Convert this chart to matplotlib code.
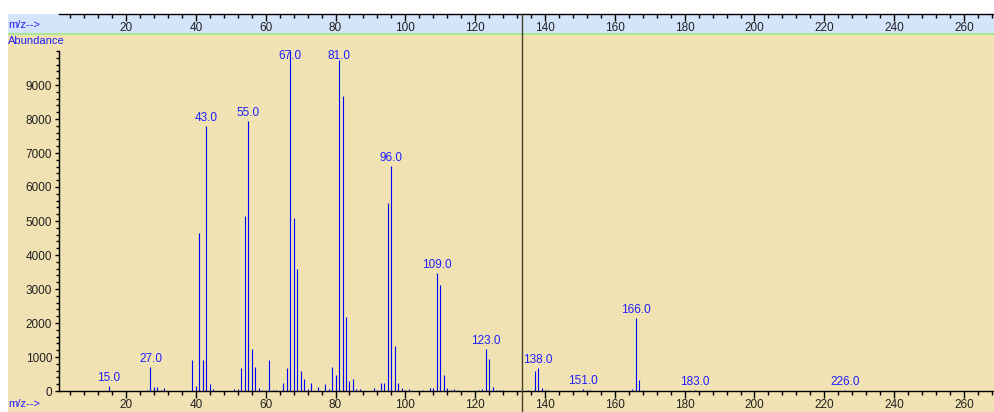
"""Mass spectrum (ChemStation style): abundance vs m/z with labelled peaks."""

import matplotlib

matplotlib.use("Agg")
import matplotlib.pyplot as plt
import matplotlib.transforms as mtransforms
from matplotlib.lines import Line2D
from matplotlib.patches import Rectangle
from matplotlib.ticker import FixedLocator, MultipleLocator

# --- data ---
mz = [15, 26, 27, 28, 29, 30, 31, 39, 40, 41, 42, 43, 44, 45, 51, 52, 53, 54,
      55, 56, 57, 58, 59, 60, 61, 62, 63, 65, 66, 67, 68, 69, 70, 71, 72, 73,
      75, 77, 78, 79, 80, 81, 82, 83, 84, 85, 86, 87, 91, 92, 93, 94, 95, 96,
      97, 98, 99, 100, 101, 105, 107, 108, 109, 110, 111, 112, 113, 114, 115,
      121, 122, 123, 124, 125, 126, 127, 128, 135, 137, 138, 139, 140, 141,
      151, 152, 153, 165, 166, 167, 168, 183, 226]
abundance = [155, 30, 700, 130, 130, 40, 90, 910, 150, 4650, 900, 7800, 220,
             60, 60, 60, 680, 5150, 7950, 1230, 700, 100, 30, 30, 910, 30, 30,
             230, 690, 10000, 5100, 3580, 590, 340, 60, 225, 130, 200, 60, 720,
             470, 9750, 8680, 2190, 300, 340, 60, 60, 90, 40, 250, 250, 5530,
             6620, 1320, 225, 100, 40, 60, 40, 100, 100, 3460, 3110, 470, 100,
             40, 60, 40, 40, 60, 1250, 940, 130, 40, 40, 40, 30, 600, 670, 100,
             30, 30, 60, 30, 30, 70, 2140, 320, 30, 30, 15]
labelled_mz = [15, 27, 43, 55, 67, 81, 96, 109, 123, 138, 151, 166, 183, 226]
x_major = list(range(20, 261, 20))
y_major = list(range(0, 10000, 1000))
y_minor = list(range(0, 10001, 200))
cursor_mz = 133.3

W, H = 994, 412
TAN = "#F0E2B2"
BAND = "#D4E4FA"
GREEN = "#A8E890"
BLUE = "#0000FF"
TEXT_BLUE = "#1E1EFF"
TICK_TXT = "#202020"
FONT = ["Liberation Sans Narrow", "Liberation Sans", "DejaVu Sans"]

plt.rcParams["font.family"] = FONT


def fx(px):
    return px / W


def fy(py):
    return 1 - py / H


fig = plt.figure(figsize=(W / 100, H / 100), dpi=100)
fig.patch.set_facecolor("white")

# backgrounds: tan plot field, light-blue top ruler, green separator
fig.add_artist(Rectangle((fx(8), 0), 1 - fx(8), fy(34), transform=fig.transFigure,
                         facecolor=TAN, edgecolor="none", zorder=0))
fig.add_artist(Rectangle((fx(8), fy(33)), 1 - fx(8), fy(14) - fy(33),
                         transform=fig.transFigure, facecolor=BAND,
                         edgecolor="none", zorder=0))
fig.add_artist(Rectangle((fx(8), fy(35)), 1 - fx(8), fy(33) - fy(35),
                         transform=fig.transFigure, facecolor=GREEN,
                         edgecolor="none", zorder=0))

xlim = (0.8, 268.6)

ax = fig.add_axes([fx(59), fy(391), 1 - fx(59), fy(34) - fy(391)])
ax.set_facecolor("none")
ax.set_xlim(*xlim)
ax.set_ylim(0, 10500)
for side in ("top", "right"):
    ax.spines[side].set_visible(False)
ax.spines["left"].set_bounds(0, 10000)
ax.spines["left"].set_linewidth(1.0)
ax.spines["bottom"].set_linewidth(1.0)

ax.vlines(mz, 0, abundance, colors=BLUE, linewidth=0.8, zorder=2)

px_per_unit = (391 - 34) / 10500.0
for m in labelled_mz:
    h = abundance[mz.index(m)]
    y = min(h + 8 / px_per_unit, 9850)
    ax.text(m, y, f"{m:.1f}", ha="center", va="center", color=TEXT_BLUE,
            fontsize=8.5, zorder=3)

ax.set_xticks(x_major)
ax.xaxis.set_minor_locator(MultipleLocator(4))
ax.set_yticks(y_major)
ax.yaxis.set_minor_locator(FixedLocator(y_minor))
ax.tick_params(axis="x", which="major", length=5, width=1, pad=1,
               labelsize=8.5, labelcolor=TICK_TXT)
ax.tick_params(axis="x", which="minor", length=3, width=1)
ax.tick_params(axis="y", which="major", length=3, width=1, pad=2,
               labelsize=8.5, labelcolor=TICK_TXT)
ax.tick_params(axis="y", which="minor", length=2, width=1)

# top ruler
ax_top = fig.add_axes([fx(59), fy(14), 1 - fx(59), 0.01])
ax_top.set_facecolor("none")
ax_top.set_xlim(*xlim)
ax_top.set_yticks([])
for side in ("top", "right", "left"):
    ax_top.spines[side].set_visible(False)
ax_top.spines["bottom"].set_linewidth(1.0)
ax_top.set_xticks(x_major)
ax_top.xaxis.set_minor_locator(MultipleLocator(4))
ax_top.tick_params(axis="x", which="major", length=5, width=1, pad=1,
                   labelsize=8.5, labelcolor=TICK_TXT)
ax_top.tick_params(axis="x", which="minor", length=3, width=1)

# cursor line
trans = mtransforms.blended_transform_factory(ax.transData, fig.transFigure)
fig.add_artist(Line2D([cursor_mz, cursor_mz], [0, fy(14)], transform=trans,
                      color="#4A4030", linewidth=1.0, zorder=4))

fig.text(fx(8), fy(25), "m/z-->", color=TEXT_BLUE, fontsize=8,
         ha="left", va="center")
fig.text(fx(8), fy(41), "Abundance", color=TEXT_BLUE, fontsize=8,
         ha="left", va="center")
fig.text(fx(8), fy(404), "m/z-->", color=TEXT_BLUE, fontsize=8,
         ha="left", va="center")

fig.savefig("out.png", dpi=100)
